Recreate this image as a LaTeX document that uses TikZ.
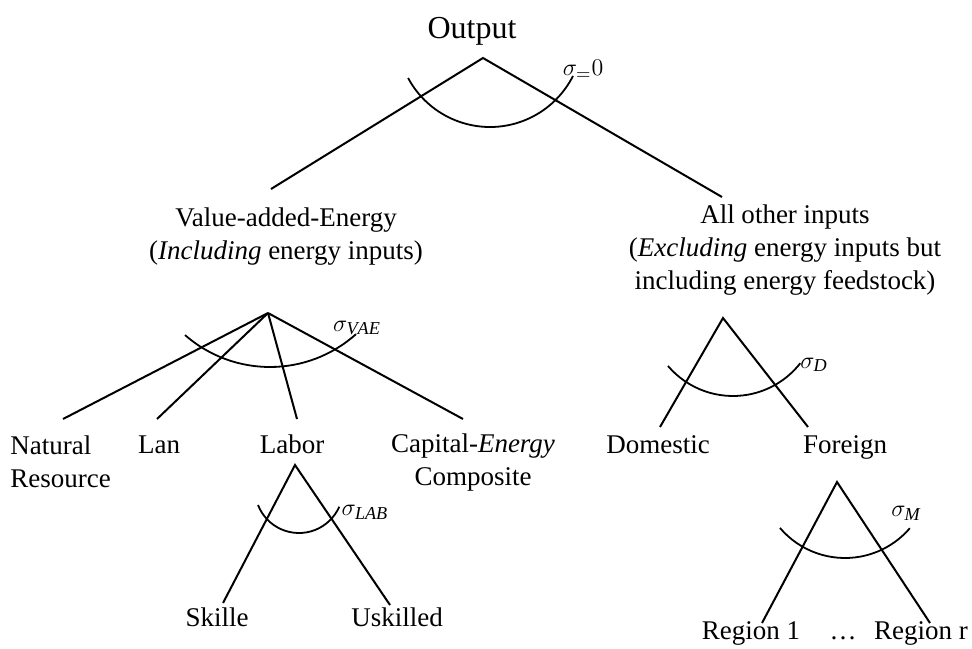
\documentclass[tikz,border=0pt]{standalone}
\usepackage{amsmath}
\usepackage{fontspec}
\setmainfont{Liberation Serif}
\usetikzlibrary{positioning}

\begin{document}
\begin{tikzpicture}[
            x=0.5pt, y=-0.5pt,
            branch/.style={line width=1pt},
            elast/.style={line width=0.9pt},
            lbl/.style={font=\fontsize{13.5}{16.5}\selectfont, inner sep=0pt, align=center},
            word/.style={lbl, anchor=base},
            sig/.style={font=\fontsize{13}{15}\selectfont, inner sep=0pt}
        ]
            \useasboundingbox (0,0) rectangle (972,648);
            % top level
            \node[word, font=\fontsize{16}{19}\selectfont] (out) at (472,38) {Output};
            \coordinate (a0) at (483,58);
            \coordinate (a0l) at (271,189);
            \coordinate (a0r) at (722,197);
            \draw[branch] (a0l) -- (a0) -- (a0r);
            \coordinate (c0) at (490,34);
            \draw[elast] (c0) ++(151.8:93) arc (151.8:26.8:93);
            \node[sig] (s0) at (583,70) {$\sigma_{=}0$};
            % second level
            \node[lbl] (vae) at (286,237)
                {Value-added-Energy\\(\textit{Including} energy inputs)};
            \node[lbl] (other) at (785,250)
                {All other inputs\\(\textit{Excluding} energy inputs but\\including energy feedstock)};
            % value-added-energy nest
            \coordinate (a1) at (268,313);
            \coordinate (a1n) at (63,419);
            \coordinate (a1l) at (157,419);
            \coordinate (a1b) at (297,419);
            \coordinate (a1c) at (463,419);
            \foreach \e in {a1n,a1l,a1b,a1c} \draw[branch] (a1) -- (\e);
            \coordinate (c1) at (270,238);
            \draw[elast] (c1) ++(131.2:129) arc (131.2:48.2:129);
            \node[sig] (svae) at (357,328) {$\sigma_{\mathit{VAE}}$};
            \node[lbl, align=left, anchor=west] (nat) at (10,462) {Natural\\Resource};
            \node[word] (lan) at (159,453) {Lan};
            \node[word] (lab) at (292,453) {Labor};
            \node[lbl] (cap) at (473,462) {Capital-\textit{Energy}\\Composite};
            % labor nest
            \coordinate (a2) at (295,465);
            \coordinate (a2l) at (223,603);
            \coordinate (a2r) at (390,605);
            \draw[branch] (a2l) -- (a2) -- (a2r);
            \coordinate (c2) at (299,489);
            \draw[elast] (c2) ++(158.7:44) arc (158.7:23.7:44);
            \node[sig] (slab) at (365,512) {$\sigma_{\mathit{LAB}}$};
            \node[word] (skl) at (217,626) {Skille};
            \node[word] (usk) at (397,626) {Uskilled};
            % domestic / foreign nest
            \coordinate (a3) at (723,318);
            \coordinate (a3l) at (660,427);
            \coordinate (a3r) at (808,427);
            \draw[branch] (a3l) -- (a3) -- (a3r);
            \coordinate (c3) at (733,310.6);
            \draw[elast] (c3) ++(139.6:85.4) arc (139.6:38:85.4);
            \node[sig] (sd) at (814,365) {$\sigma_{\mathit{D}}$};
            \node[word] (dom) at (658,453) {Domestic};
            \node[word] (for) at (845,453) {Foreign};
            % import regions nest
            \coordinate (a4) at (837,482);
            \coordinate (a4l) at (762,623);
            \coordinate (a4r) at (930,623);
            \draw[branch] (a4l) -- (a4) -- (a4r);
            \coordinate (c4) at (845,472.6);
            \draw[elast] (c4) ++(139.6:85.4) arc (139.6:40.6:85.4);
            \node[sig] (sm) at (906,513) {$\sigma_{\mathit{M}}$};
            \node[word] (reg1) at (751,639) {Region 1};
            \node[word] (dots) at (843,639) {\dots};
            \node[word] (regr) at (921,639) {Region r};
        \end{tikzpicture}
\end{document}
